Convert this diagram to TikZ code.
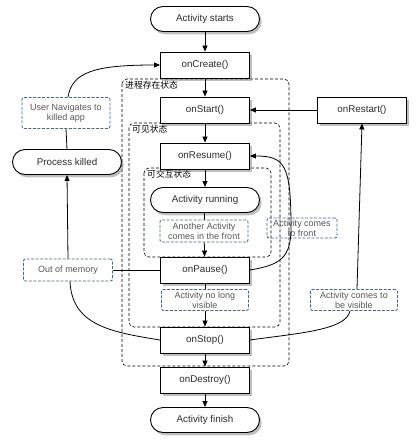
\documentclass[tikz,border=0pt]{standalone}
\usepackage{fontspec}
\setmainfont{Liberation Sans}
\newfontfamily\cjk{Noto Sans CJK SC}
\usetikzlibrary{arrows.meta,shadows}
\definecolor{tipblue}{RGB}{75,105,135}
\definecolor{txt}{RGB}{45,45,45}
\begin{document}
\begin{tikzpicture}[x=1pt,y=-1pt,
  font=\fontsize{9.8}{11}\selectfont,
  box/.style={draw=black, line width=0.9pt, fill=white, minimum width=89pt, minimum height=26pt, inner sep=0pt, text=txt,
    drop shadow={shadow xshift=2.2pt,shadow yshift=-2.8pt,opacity=0.5}},
  pill/.style={box, rounded corners=12.5pt, minimum width=109pt, minimum height=25pt},
  tip/.style={draw=tipblue, dash pattern=on 3pt off 1.5pt, line width=0.9pt, rounded corners=2pt, text=txt!80, align=center, inner sep=0pt, font=\fontsize{9}{10.3}\selectfont},
  zone/.style={draw=black, line width=0.6pt, dash pattern=on 3pt off 2pt, rounded corners=5pt},
  zonelbl/.style={font=\cjk\fontsize{8.8}{10}\selectfont, anchor=north west, inner sep=1pt},
  flow/.style={line width=0.8pt, -{Triangle[length=6pt,width=5pt]}},
  link/.style={line width=0.8pt}
]
\useasboundingbox (0,0) rectangle (417,447);
% zones
\draw[zone] (122,79) rectangle (289,366);
\node[zonelbl] at (124,80) {进程存在状态};
\draw[zone] (129,123) rectangle (280,327);
\node[zonelbl] at (131,124) {可见状态};
\draw[zone] (144,168) rectangle (271,257);
\node[zonelbl] at (146,169) {可交互状态};
% main nodes
\node[pill] (start) at (205,19) {Activity starts};
\node[box] (create) at (205,65) {onCreate()};
\node[box] (startN) at (205,110) {onStart()};
\node[box] (resume) at (205,156) {onResume()};
\node[pill] (running) at (205,200) {Activity running};
\node[tip, minimum width=88pt, minimum height=22pt] (another) at (204,231) {Another Activity\\comes in the front};
\node[box] (pause) at (205,270) {onPause()};
\node[tip, minimum width=87pt, minimum height=21pt] (novis) at (205,300) {Activity no long\\visible};
\node[box] (stop) at (205,340) {onStop()};
\node[box] (destroy) at (205,380) {onDestroy()};
\node[pill] (finish) at (205,420) {Activity finish};
\node[box] (restart) at (362,110) {onRestart()};
\node[pill] (killed) at (67,162) {Process killed};
\node[tip, minimum width=88pt, minimum height=31pt] (user) at (66,113) {User Navigates to\\killed app};
\node[tip, minimum width=89pt, minimum height=22pt] (oom) at (68,270) {Out of memory};
\node[tip, minimum width=70pt, minimum height=20pt] (front) at (302,228) {Activity comes\\to front};
\node[tip, minimum width=87pt, minimum height=21pt] (vis) at (354,300) {Activity comes to\\be visible};
\coordinate (fp) at (291,228);
% main flow
\draw[flow] (start) -- (create);
\draw[flow] (create) -- (startN);
\draw[flow] (startN) -- (resume);
\draw[flow] (resume) -- (running);
\draw[link] (running) -- (another);
\draw[flow] (another) -- (pause);
\draw[link] (pause) -- (novis);
\draw[flow] (novis) -- (stop);
\draw[flow] (stop) -- (destroy);
\draw[flow] (destroy) -- (finish);
% side paths
\draw[flow] (restart.west) -- (startN.east);
\draw[link] (stop.east) .. controls (300,333) and (346,330) .. ([xshift=-4pt]vis.south);
\draw[flow] ([xshift=3pt]vis.north) -- (restart.south);
\draw[flow] (pause.east) .. controls (280,265) and (291,258) .. (fp) .. controls (291,165) and (285,156) .. (resume.east);
\draw[link] (pause.west) -- (oom.east);
\draw[flow] (oom.north) -- (killed.south);
\draw[link] ([xshift=2pt]oom.south) .. controls (72,325) and (110,332) .. (stop.west);
\draw[link] (killed.north) -- (user.south);
\draw[flow] ([xshift=2pt]user.north) .. controls (72,72) and (95,65) .. (create.west);
\end{tikzpicture}
\end{document}
